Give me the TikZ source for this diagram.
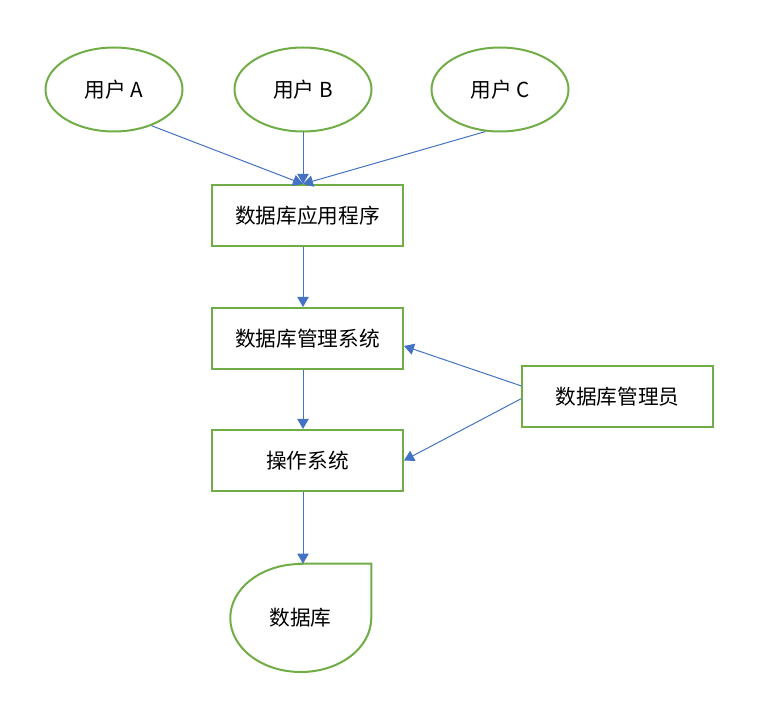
\documentclass[tikz,border=0pt]{standalone}
\usepackage{fontspec}
\setmainfont{Noto Sans CJK SC}
\usetikzlibrary{shapes.geometric,arrows.meta}
\definecolor{boxgreen}{HTML}{70AD47}
\definecolor{arrblue}{HTML}{4472C4}
\begin{document}
\begin{tikzpicture}[x=0.75pt,y=-0.75pt,
  font=\fontsize{15.5}{18}\selectfont,
  user/.style={ellipse,draw=boxgreen,line width=1.5pt,minimum width=102.75pt,minimum height=63pt,inner sep=0pt},
  layer/.style={rectangle,draw=boxgreen,line width=1.5pt,minimum width=143.25pt,minimum height=45.75pt,inner sep=0pt},
  arr/.style={draw=arrblue,line width=0.75pt,-{Triangle[length=7.5pt,width=8.5pt]}}]
 \useasboundingbox (0,0) rectangle (764,705);
 % users
 \node[user] (userA) at (114,89.5) {用户 A};
 \node[user] (userB) at (303,89.5) {用户 B};
 \node[user] (userC) at (500,89.5) {用户 C};
 %
 \node[layer] (app)   at (307.5,215.5) {数据库应用程序};
 \node[layer] (dbms)  at (307.5,338.5) {数据库管理系统};
 \node[layer] (os)    at (307.5,460.5) {操作系统};
 \node[layer] (admin) at (617.5,396.5) {数据库管理员};
 % database
 \node[rectangle,minimum width=105.75pt,minimum height=81pt,inner sep=0pt] (db) at (300.5,618) {数据库};
 \draw[boxgreen,line width=1.5pt] (db.north) -- (db.north east) -- (db.east)
   arc[start angle=0,end angle=-270,x radius=52.875pt,y radius=40.5pt] -- cycle;
 %
 \coordinate (lane) at (303,0);
 \draw[arr] (userA.-44) -- (app.north -| lane);
 \draw[arr] (userB.south) -- (app.north -| lane);
 \draw[arr] (userC.-109) -- (app.north -| lane);
 \draw[arr] (app.south -| lane) -- (dbms.north -| lane);
 \draw[arr] (dbms.south -| lane) -- (os.north -| lane);
 \draw[arr] (os.south -| lane) -- (db.north -| lane);
 %
 \draw[arr] ([yshift=8pt]admin.west) -- ([yshift=-5.6pt]dbms.east);
 \draw[arr] ([yshift=-1.7pt]admin.west) -- (os.east);
\end{tikzpicture}
\end{document}
